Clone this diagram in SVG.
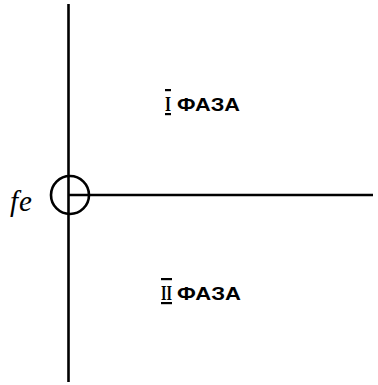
<svg xmlns="http://www.w3.org/2000/svg" width="378" height="385" viewBox="0 0 378 385">
<style>
.ln{stroke:#000;stroke-width:2.6;fill:none}
.ph{font-family:"Liberation Sans",Arial,sans-serif;font-weight:bold;font-size:18px;fill:#000}
.rn{font-family:"Liberation Serif","Times New Roman",serif;font-weight:bold;font-size:22px;fill:#000;text-decoration:overline underline}
.fe{font-family:"Liberation Serif","Times New Roman",serif;font-style:italic;font-size:29px;fill:#000}
</style>
<rect width="378" height="385" fill="#fff"/>
<g id="connectors">
<line class="ln" x1="68.5" y1="4" x2="68.5" y2="382"/>
<line class="ln" x1="69" y1="195" x2="373" y2="195"/>
</g>
<g id="node-fe">
<circle class="ln" cx="70" cy="195" r="19"/>
<text class="fe" x="10" y="211">f<tspan dx="1">e</tspan></text>
</g>
<g id="node-phase1">
<text class="rn" x="165" y="111" textLength="6" lengthAdjust="spacingAndGlyphs">I</text>
<text class="ph" x="177" y="111" textLength="63" lengthAdjust="spacingAndGlyphs">ФАЗА</text>
</g>
<g id="node-phase2">
<text class="rn" x="161" y="300" textLength="11" lengthAdjust="spacingAndGlyphs">II</text>
<text class="ph" x="177" y="300" textLength="64" lengthAdjust="spacingAndGlyphs">ФАЗА</text>
</g>
</svg>
